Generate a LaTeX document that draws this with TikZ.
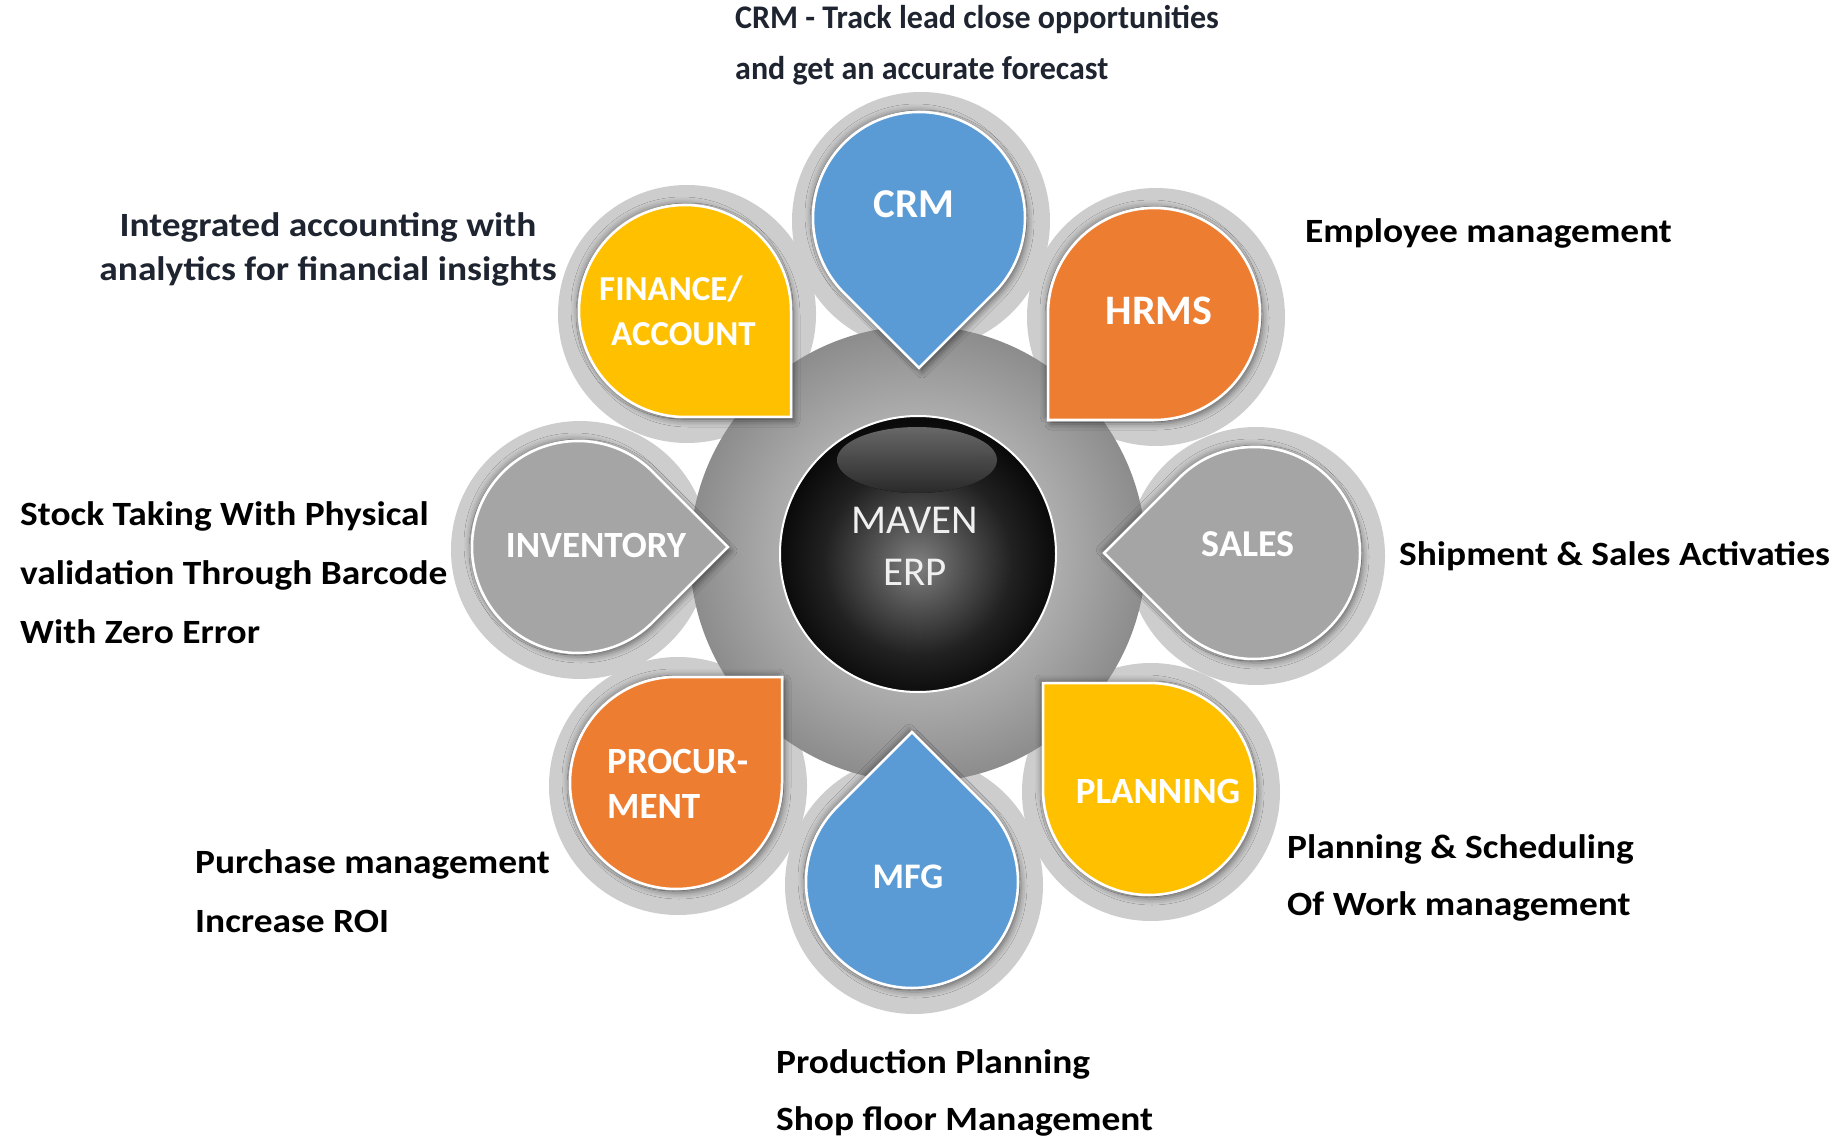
\documentclass[tikz,border=0pt]{standalone}
\usepackage{fontspec}
\setmainfont{Carlito}
\newfontfamily\descfont[FakeStretch=1.10]{Carlito}
\newfontfamily\narrowfont[FakeStretch=0.97]{Carlito}
\usetikzlibrary{shadows.blur}
\definecolor{cblue}{HTML}{5B9BD5}
\definecolor{corange}{HTML}{ED7D31}
\definecolor{cyellow}{HTML}{FFC000}
\definecolor{cgray}{HTML}{A5A5A5}
\definecolor{halogray}{HTML}{CDCDCD}
\definecolor{navy}{HTML}{1E2430}
\pgfdeclareradialshading{hubshade}{\pgfpoint{0bp}{0bp}}{color(0bp)=(black!24); color(15bp)=(black!32); color(25bp)=(black!45); color(50bp)=(black!45)}
\pgfdeclareradialshading{ballshade}{\pgfpoint{0bp}{-2bp}}{color(0bp)=(black!50); color(8bp)=(black!68); color(17bp)=(black!87); color(25bp)=(black!96); color(50bp)=(black!96)}
\newcommand\dfont[2]{\fontsize{#1}{#2}\selectfont\bfseries}
\newcommand\drawpetal[4]{%
  \path[fill=#4, draw=white, line width=2.5, blur shadow={shadow xshift=-3pt, shadow yshift=3pt, shadow blur radius=5pt, shadow opacity=30}]
    ([shift={({#3+45}:106)}]#1,#2) arc[start angle={#3+45}, delta angle=270, radius=106] -- ++({#3+45}:106) -- cycle;
  \path[fill=#4, draw=white, line width=2.5, blur shadow={shadow xshift=3pt, shadow yshift=-4pt, shadow blur radius=6pt, shadow opacity=45}]
    ([shift={({#3+45}:106)}]#1,#2) arc[start angle={#3+45}, delta angle=270, radius=106] -- ++({#3+45}:106) -- cycle;
}
\tikzset{
  halo/.style={fill=halogray},
  desc/.style={inner sep=0pt, text=black, align=left, anchor=base west},
  plabel/.style={inner sep=0pt, text=white, anchor=base},
}
\begin{document}
\begin{tikzpicture}[x=1pt,y=1pt]
\fill[white] (0,0) rectangle (1842,-1139);
\useasboundingbox (0,0) rectangle (1842,-1139);
% halos
\fill[halo] (921,-221) circle[radius=129];
\fill[halo] (1156,-317) circle[radius=129];
\fill[halo] (1256,-556) circle[radius=129];
\fill[halo] (1151,-792) circle[radius=129];
\fill[halo] (914,-885) circle[radius=129];
\fill[halo] (678,-786) circle[radius=129];
\fill[halo] (580,-550) circle[radius=129];
\fill[halo] (687,-314) circle[radius=129];
% hub
\path[shading=hubshade] (918,-554) circle[radius=228];
% petals
\drawpetal{919}{-218}{270}{cblue}
\drawpetal{1154}{-314}{225}{corange}
\drawpetal{1254}{-553}{180}{cgray}
\drawpetal{1149}{-789}{135}{cyellow}
\drawpetal{912}{-882}{90}{cblue}
\drawpetal{676}{-783}{45}{corange}
\drawpetal{578}{-547}{0}{cgray}
\drawpetal{685}{-311}{315}{cyellow}
% central ball
\path[shading=ballshade, draw=white, line width=2] (918,-554) circle[radius=138];
\fill[top color=black!55, bottom color=black!82, opacity=0.9] (917,-460) ellipse[x radius=80, y radius=33];
\node[inner sep=0pt, text=black!6, align=center, anchor=base, font=\fontsize{41}{52}\selectfont] (core) at (915,-585) {MAVEN\\ERP};
% petal labels
\node[plabel, font=\dfont{41}{45}] (crm) at (914,-218) {CRM};
\node[plabel, font=\dfont{42}{45}] (hrms) at (1159,-325) {HRMS};
\node[plabel, font=\dfont{38}{45}] (sales) at (1248,-556) {SALES};
\node[plabel, font=\dfont{37}{45}] (planning) at (1158,-803) {PLANNING};
\node[plabel, font=\dfont{36}{45}] (mfg) at (908,-888) {MFG};
\node[plabel, font=\dfont{37}{45}, anchor=base west, align=left] (procurement) at (607,-818) {PROCUR-\\MENT};
\node[plabel, font=\dfont{37}{45}] (inventory) at (596,-557) {INVENTORY};
\node[plabel, font=\dfont{35}{45}, anchor=base west, align=left] (finance) at (599,-346) {FINANCE/\\\hspace*{12pt}ACCOUNT};
% descriptions
\node[desc, text=navy, font=\narrowfont\dfont{33}{51}] (crmdesc) at (735,-80) {CRM - Track lead close opportunities\\and get an accurate forecast};
\node[desc, text=navy, align=center, anchor=base, font=\descfont\dfont{34}{44}] (findesc) at (328,-281) {Integrated accounting with\\analytics for financial insights};
\node[desc, font=\descfont\dfont{34}{59}] (invdesc) at (20,-643) {Stock Taking With Physical\\validation Through Barcode\\With Zero Error};
\node[desc, font=\descfont\dfont{34}{51}] (hrmsdesc) at (1305,-243) {Employee management};
\node[desc, font=\descfont\dfont{34}{51}] (salesdesc) at (1399,-565) {Shipment \& Sales Activaties};
\node[desc, font=\descfont\dfont{34}{57}] (plandesc) at (1287,-915) {Planning \& Scheduling\\Of Work management};
\node[desc, font=\descfont\dfont{34}{59}] (procdesc) at (195,-932) {Purchase management\\Increase ROI};
\node[desc, font=\descfont\dfont{34}{57}] (mfgdesc) at (776,-1130) {Production Planning\\Shop floor Management};
\end{tikzpicture}
\end{document}
